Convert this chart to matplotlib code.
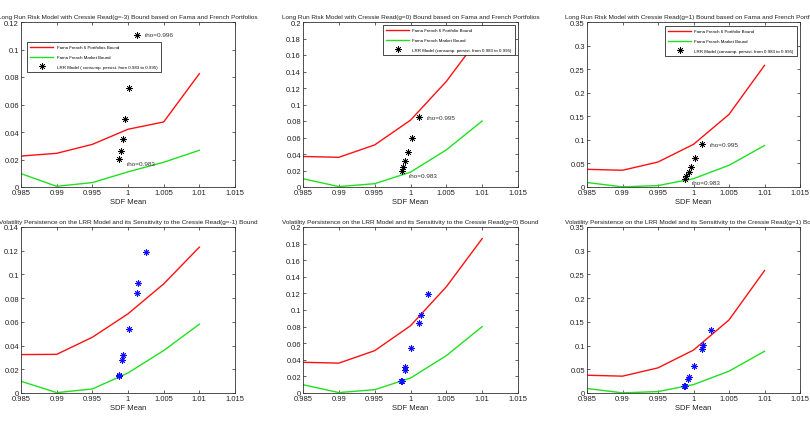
import matplotlib
matplotlib.use("Agg")
import matplotlib.pyplot as plt
from matplotlib.lines import Line2D
from matplotlib.ticker import FuncFormatter

plt.rcParams['font.family'] = ['Liberation Sans', 'DejaVu Sans']

# SDF mean grid used for the bounds
sdf_mean = [0.985, 0.99, 0.995, 1.0, 1.005, 1.01]

# top row: Fama French bounds, g = -3, 0, 1
ff6_top = [
    [0.0225, 0.0245, 0.031, 0.042, 0.0473, 0.0824],
    [0.037, 0.036, 0.051, 0.081, 0.128, 0.186],
    [0.0375, 0.0355, 0.053, 0.0905, 0.154, 0.258],
]
ffm_top = [
    [0.0097, 0.0005, 0.0032, 0.011, 0.018, 0.0267],
    [0.010, 0.0005, 0.004, 0.018, 0.045, 0.080],
    [0.0095, 0.0003, 0.003, 0.0177, 0.046, 0.088],
]
# LRR model points (consumption persistence 0.983 .. 0.995)
lrr_x = [0.9988, 0.9990, 0.9993, 0.9996, 1.0002, 1.0012]
lrr_y = [
    [0.0204, 0.026, 0.0349, 0.0495, 0.0722, 0.1108],
    [0.0189, 0.0237, 0.031, 0.0427, 0.060, 0.0845],
    [0.0177, 0.0226, 0.0318, 0.0424, 0.0615, 0.091],
]
rho_hi = ["rho=0.996", "rho=0.995", "rho=0.995"]

# bottom row: g = -1, 0, 1
ff6_bot = [
    [0.0324, 0.0326, 0.047, 0.0668, 0.092, 0.123],
    [0.037, 0.036, 0.051, 0.081, 0.128, 0.186],
    [0.0375, 0.0355, 0.053, 0.0905, 0.154, 0.258],
]
ffm_bot = [
    [0.0099, 0.0003, 0.0034, 0.0169, 0.0358, 0.058],
    [0.010, 0.0005, 0.004, 0.018, 0.045, 0.080],
    [0.0095, 0.0003, 0.003, 0.0177, 0.046, 0.088],
]
vol_x = [0.9987, 0.9988, 0.9992, 0.9993, 1.0001, 1.0012, 1.0014, 1.0025]
vol_y = [
    [0.0146, 0.0155, 0.0279, 0.0321, 0.054, 0.0845, 0.093, 0.119],
    [0.0141, 0.0149, 0.0278, 0.0314, 0.0539, 0.0841, 0.0934, 0.1187],
    [0.0141, 0.0155, 0.0289, 0.0331, 0.0563, 0.0923, 0.1014, 0.1338],
]

top_g = ["-3", "0", "1"]
bot_g = ["-1", "0", "1"]
ymax = [0.12, 0.2, 0.35, 0.14, 0.2, 0.35]
ystep = [0.02, 0.02, 0.05, 0.02, 0.02, 0.05]
xticks = [0.985, 0.99, 0.995, 1.0, 1.005, 1.01, 1.015]

# axes rectangles in pixels (left, right) for the three columns
cols_px = [(21, 235), (303, 518), (587, 800)]
rows_px = [(23, 188), (228, 394)]
W, H = 810.0, 427.0

STAR = (8, 2, 0)


def fmt(v, pos):
    return "%g" % round(v, 4)


def setup(ax, top):
    ax.set_xlim(0.985, 1.015)
    ax.set_ylim(0, top)
    ax.set_xticks(xticks)
    ax.xaxis.set_major_formatter(FuncFormatter(fmt))
    ax.yaxis.set_major_formatter(FuncFormatter(fmt))
    ax.tick_params(direction='in', length=2.5, width=0.5, labelsize=5.5,
                   colors='#222222', top=True, right=True, pad=1.5)
    for sp in ax.spines.values():
        sp.set_linewidth(0.6)
        sp.set_color('#333333')
    ax.set_xlabel("SDF Mean", fontsize=5.5, color='#222222', labelpad=1.5)


fig = plt.figure(figsize=(8.1, 4.27), dpi=100)

for r in range(2):
    for c in range(3):
        i = r * 3 + c
        l, rt = cols_px[c]
        t, b = rows_px[r]
        ax = fig.add_axes([l / W, 1 - b / H, (rt - l) / W, (b - t) / H])
        setup(ax, ymax[i])
        n = int(round(ymax[i] / ystep[i]))
        ax.set_yticks([ystep[i] * k for k in range(n + 1)])
        if r == 0:
            ax.plot(sdf_mean, ff6_top[c], color='#ff1010', lw=1.0)
            ax.plot(sdf_mean, ffm_top[c], color='#20e020', lw=1.0)
            ax.plot(lrr_x, lrr_y[c], linestyle='none', marker=STAR,
                    markersize=4.6, markeredgewidth=0.5, color='black')
            ax.text(lrr_x[-1] + 0.0011, lrr_y[c][-1], rho_hi[c], fontsize=4.6,
                    va='center', ha='left', color='#333333')
            ax.text(lrr_x[0] + 0.001, lrr_y[c][0] - 0.003 * ymax[c] / 0.12,
                    "rho=0.983", fontsize=4.6, va='center', ha='left', color='#333333')
            ax.set_title("Long Run Risk Model with Cressie Read(g=%s) Bound based on Fama and French Portfolios" % top_g[c],
                         fontsize=4.6, pad=3, color='#222222')
            p6 = "Fama French 6 Portfolios Bound" if c == 0 else "Fama French 6 Portfolio Bound"
            lrr = ("LRR Model ( consump. persist. from 0.983 to 0.995)" if c == 0
                   else "LRR Model (consump. persist. from 0.983 to 0.995)")
            handles = [
                Line2D([], [], color='#ff1010', lw=1.0),
                Line2D([], [], color='#20e020', lw=1.0),
                Line2D([], [], color='black', linestyle='none', marker=STAR,
                       markersize=4.6, markeredgewidth=0.5),
            ]
            labels = [p6, "Fama French Market Bound", lrr]
            if c == 0:
                loc, anchor = 'upper left', (0.028, 0.879)
            elif c == 1:
                loc, anchor = 'upper right', (0.986, 0.982)
            else:
                loc, anchor = 'upper right', (0.986, 0.976)
            leg = ax.legend(handles, labels, loc=loc, bbox_to_anchor=anchor,
                            borderaxespad=0, fancybox=False, framealpha=1,
                            edgecolor='black', handlelength=5.2, labelspacing=1.25,
                            borderpad=0.75, handletextpad=0.7,
                            prop={'size': 3.2})
            leg.get_frame().set_linewidth(0.5)
        else:
            ax.plot(sdf_mean, ff6_bot[c], color='#ff1010', lw=1.0)
            ax.plot(sdf_mean, ffm_bot[c], color='#20e020', lw=1.0)
            ax.plot(vol_x, vol_y[c], linestyle='none', marker=STAR,
                    markersize=4.6, markeredgewidth=0.7, color='#1010ff')
            ax.set_title("Volatility Persistence on the LRR Model and its Sensitivity to the Cressie Read(g=%s) Bound" % bot_g[c],
                         fontsize=4.6, pad=3, color='#222222')

fig.savefig("out.png", dpi=100, facecolor='white')
